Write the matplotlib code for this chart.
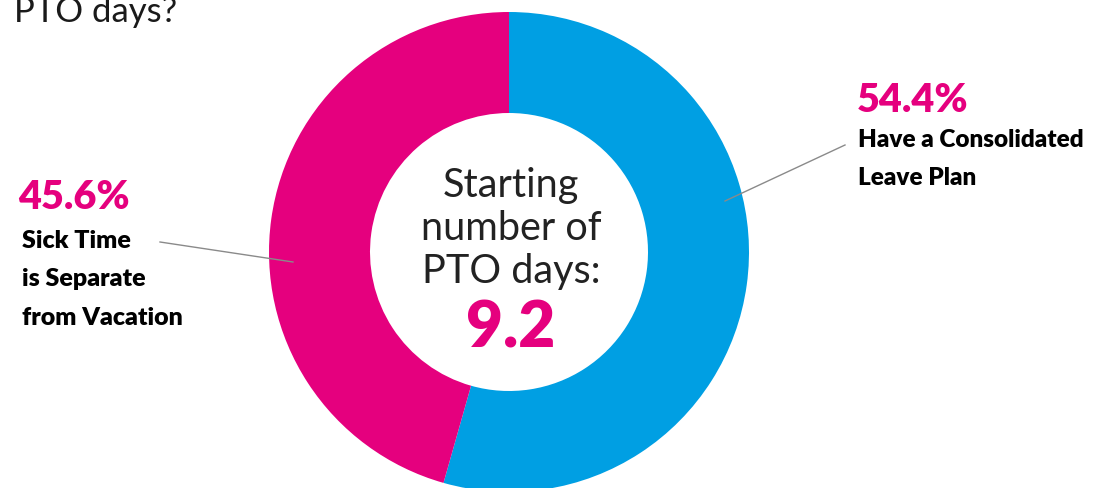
import matplotlib.pyplot as plt

plt.rcParams['font.family'] = ['Lato', 'DejaVu Sans']

labels = ['Have a Consolidated\nLeave Plan', 'Sick Time\nis Separate\nfrom Vacation']
shares = [54.4, 45.6]
colors = ['#009FE3', '#E5007E']
pct_labels = ['54.4%', '45.6%']
center_lines = ['Starting', 'number of', 'PTO days:']
center_value = '9.2'
title_tail = 'PTO days?'

pink = '#E5007E'

fig = plt.figure(figsize=(11.13, 4.88), dpi=100)
ax = fig.add_axes([0, 0, 1, 1])

# pixel coordinates, y downwards
ax.pie(shares, colors=colors, startangle=-90, counterclock=True,
       center=(509, 252), radius=240,
       wedgeprops=dict(width=101, edgecolor='none'))
ax.set_xlim(0, 1113)
ax.set_ylim(488, 0)
ax.set_aspect('equal')
ax.axis('off')

# title fragment cut at the top
ax.text(14, 22, title_tail, fontsize=25, color='#1a1a1a', va='baseline', ha='left')

# center text
for i, line in enumerate(center_lines):
    ax.text(511, 197 + i * 43, line, fontsize=28.5, color='#222222',
            ha='center', va='baseline')
ax.text(511, 348, center_value, fontsize=46, weight='heavy', color=pink,
        ha='center', va='baseline')

# right annotation
ax.text(857, 112, pct_labels[0], fontsize=28.5, weight='heavy', color=pink, va='baseline')
for i, line in enumerate(labels[0].split('\n')):
    ax.text(858, 147 + i * 38, line, fontsize=17.5, weight='heavy', color='black', va='baseline')
ax.plot([725, 845], [201, 145], color='#8a8a8a', lw=1)

# left annotation
ax.text(18, 209, pct_labels[1], fontsize=28.5, weight='heavy', color=pink, va='baseline')
for i, line in enumerate(labels[1].split('\n')):
    ax.text(22, 248 + i * 38.5, line, fontsize=18, weight='heavy', color='black', va='baseline')
ax.plot([160, 293], [242, 262], color='#8a8a8a', lw=1)

fig.savefig('out.png', dpi=100)
